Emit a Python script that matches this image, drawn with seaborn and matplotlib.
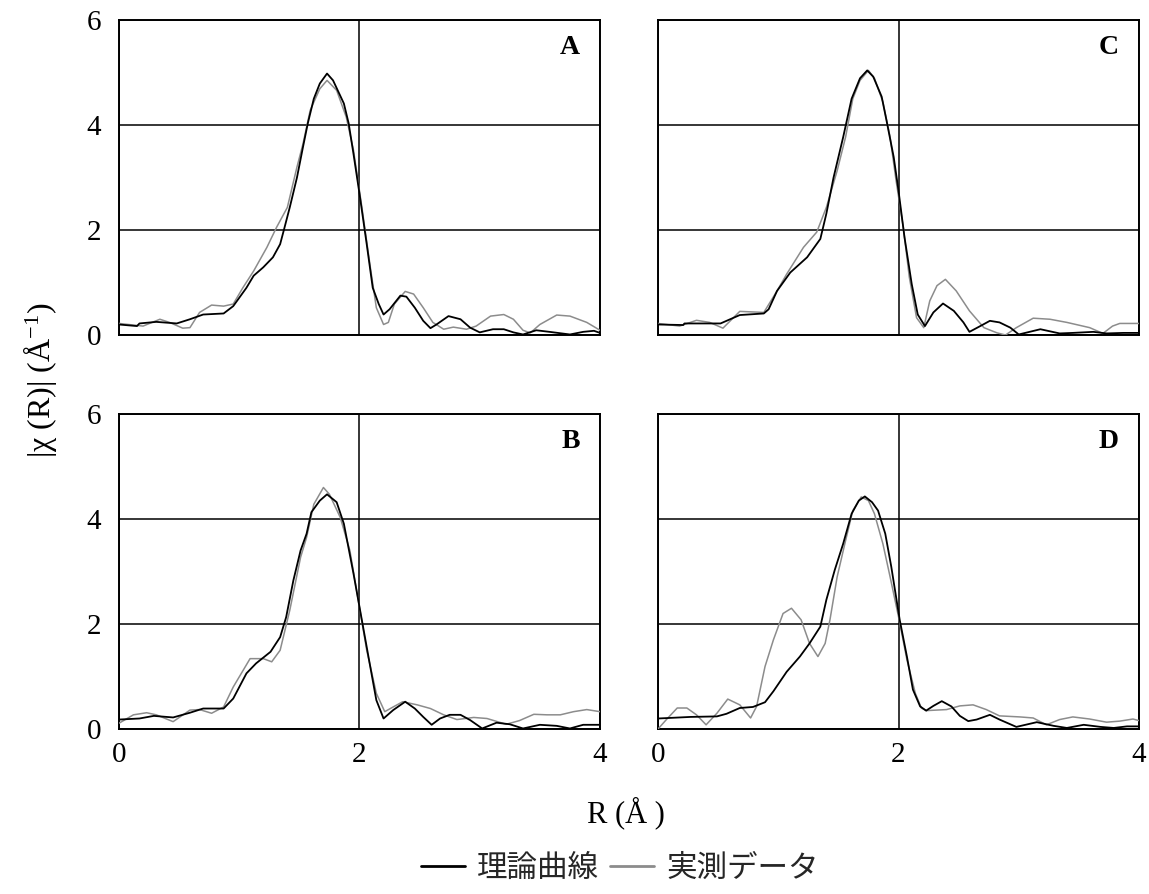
import numpy as np
import pandas as pd
import matplotlib
matplotlib.use("Agg")
import matplotlib.pyplot as plt
import seaborn as sns
from matplotlib.lines import Line2D

# ---------------- data ----------------
A_theory_R = [0, 0.15, 0.17, 0.31, 0.48, 0.59, 0.70, 0.87, 0.95, 1.06, 1.12, 1.20, 1.28, 1.34, 1.37, 1.42, 1.48, 1.53, 1.57, 1.62,
              1.67, 1.73, 1.78, 1.87, 1.91, 1.95, 2.00, 2.06, 2.11, 2.16, 2.20, 2.25, 2.34, 2.39, 2.46, 2.53, 2.59, 2.64, 2.74, 2.84,
              2.92, 3.00, 3.11, 3.20, 3.28, 3.36, 3.47, 3.58, 3.75, 3.86, 3.95, 4.0]
A_theory_V = [0.20, 0.17, 0.22, 0.25, 0.22, 0.30, 0.39, 0.41, 0.55, 0.90, 1.13, 1.29, 1.48, 1.73, 1.99, 2.43, 3.00, 3.58, 4.03, 4.50,
              4.79, 4.98, 4.85, 4.41, 4.03, 3.45, 2.69, 1.73, 0.90, 0.59, 0.39, 0.49, 0.75, 0.73, 0.52, 0.27, 0.13, 0.20, 0.36, 0.30,
              0.14, 0.05, 0.11, 0.11, 0.05, 0.01, 0.09, 0.06, 0.01, 0.06, 0.08, 0.04]
A_exp_R = [0, 0.20, 0.34, 0.42, 0.53, 0.59, 0.67, 0.77, 0.87, 0.95, 1.03, 1.12, 1.23, 1.31, 1.40, 1.48, 1.53, 1.59, 1.67, 1.73,
           1.81, 1.89, 1.95, 2.02, 2.09, 2.14, 2.20, 2.24, 2.29, 2.38, 2.45, 2.53, 2.61, 2.70, 2.78, 2.89, 2.97, 3.09, 3.20, 3.28,
           3.36, 3.42, 3.50, 3.64, 3.75, 3.89, 4.0]
A_exp_V = [0.22, 0.17, 0.30, 0.24, 0.13, 0.14, 0.43, 0.57, 0.55, 0.59, 0.90, 1.22, 1.67, 2.05, 2.43, 3.20, 3.64, 4.28, 4.69, 4.85,
           4.66, 4.15, 3.52, 2.43, 1.29, 0.52, 0.20, 0.24, 0.59, 0.83, 0.78, 0.52, 0.24, 0.11, 0.15, 0.11, 0.17, 0.36, 0.39, 0.30,
           0.09, 0.04, 0.20, 0.38, 0.36, 0.24, 0.09]

C_theory_R = [0, 0.21, 0.22, 0.52, 0.68, 0.88, 0.92, 0.99, 1.10, 1.24, 1.35, 1.40, 1.46, 1.54, 1.61, 1.68, 1.74, 1.79, 1.86, 1.90,
              1.96, 2.00, 2.05, 2.11, 2.16, 2.22, 2.29, 2.37, 2.46, 2.54, 2.59, 2.68, 2.76, 2.84, 2.93, 3.00, 3.18, 3.34, 3.45, 3.62,
              3.73, 3.87, 4.0]
C_theory_V = [0.20, 0.19, 0.22, 0.22, 0.38, 0.41, 0.49, 0.84, 1.19, 1.48, 1.83, 2.31, 3.00, 3.77, 4.50, 4.89, 5.04, 4.92, 4.54, 4.09,
              3.39, 2.75, 1.86, 0.97, 0.39, 0.17, 0.43, 0.60, 0.46, 0.24, 0.06, 0.17, 0.27, 0.24, 0.14, 0.01, 0.11, 0.03, 0.04, 0.06,
              0.03, 0.04, 0.04]
C_exp_R = [0, 0.18, 0.32, 0.43, 0.54, 0.68, 0.88, 0.99, 1.07, 1.21, 1.32, 1.40, 1.49, 1.56, 1.62, 1.68, 1.75, 1.80, 1.87, 1.93,
           1.98, 2.04, 2.09, 2.15, 2.21, 2.26, 2.32, 2.39, 2.48, 2.59, 2.71, 2.82, 2.89, 2.98, 3.12, 3.26, 3.40, 3.59, 3.70, 3.78,
           3.84, 4.0]
C_exp_V = [0.22, 0.17, 0.28, 0.24, 0.13, 0.45, 0.43, 0.84, 1.16, 1.67, 1.96, 2.43, 3.13, 3.77, 4.50, 4.85, 5.04, 4.89, 4.44, 3.77,
           2.94, 2.05, 1.10, 0.33, 0.14, 0.65, 0.94, 1.06, 0.84, 0.46, 0.14, 0.04, 0.00, 0.14, 0.32, 0.30, 0.24, 0.14, 0.03, 0.17,
           0.22, 0.22]

B_theory_R = [0, 0.17, 0.29, 0.45, 0.59, 0.70, 0.87, 0.95, 1.06, 1.14, 1.26, 1.34, 1.39, 1.45, 1.51, 1.56, 1.60, 1.67, 1.73, 1.81,
              1.87, 1.95, 2.02, 2.09, 2.14, 2.20, 2.28, 2.38, 2.46, 2.53, 2.60, 2.67, 2.75, 2.84, 2.92, 3.02, 3.14, 3.25, 3.36, 3.50,
              3.64, 3.75, 3.86, 4.0]
B_theory_V = [0.18, 0.20, 0.25, 0.22, 0.31, 0.39, 0.39, 0.58, 1.06, 1.25, 1.47, 1.75, 2.13, 2.83, 3.40, 3.72, 4.13, 4.35, 4.47, 4.32,
              3.91, 2.96, 2.07, 1.18, 0.55, 0.20, 0.36, 0.52, 0.39, 0.23, 0.08, 0.20, 0.27, 0.27, 0.17, 0.01, 0.12, 0.09, 0.01, 0.08,
              0.06, 0.01, 0.08, 0.08]
B_exp_R = [0, 0.12, 0.23, 0.31, 0.45, 0.59, 0.67, 0.77, 0.87, 0.95, 1.09, 1.20, 1.27, 1.34, 1.42, 1.51, 1.56, 1.62, 1.70, 1.75,
           1.84, 1.92, 1.99, 2.06, 2.14, 2.21, 2.28, 2.36, 2.48, 2.59, 2.70, 2.81, 2.95, 3.06, 3.22, 3.33, 3.45, 3.56, 3.67, 3.78,
           3.89, 4.0]
B_exp_V = [0.11, 0.27, 0.31, 0.27, 0.14, 0.36, 0.37, 0.30, 0.42, 0.80, 1.34, 1.34, 1.28, 1.50, 2.26, 3.27, 3.65, 4.28, 4.60, 4.47,
           4.03, 3.40, 2.45, 1.50, 0.68, 0.33, 0.42, 0.52, 0.46, 0.39, 0.27, 0.18, 0.22, 0.20, 0.09, 0.16, 0.28, 0.27, 0.27, 0.33,
           0.37, 0.33]

D_theory_R = [0, 0.27, 0.49, 0.57, 0.68, 0.79, 0.89, 0.96, 1.07, 1.18, 1.26, 1.35, 1.40, 1.47, 1.54, 1.61, 1.67, 1.72, 1.78, 1.83,
              1.89, 1.94, 2.01, 2.07, 2.12, 2.18, 2.23, 2.29, 2.36, 2.44, 2.51, 2.58, 2.65, 2.76, 2.84, 2.98, 3.15, 3.29, 3.40, 3.54,
              3.68, 3.79, 3.90, 4.0]
D_theory_V = [0.20, 0.23, 0.24, 0.29, 0.40, 0.42, 0.51, 0.72, 1.09, 1.38, 1.63, 1.95, 2.46, 3.03, 3.53, 4.10, 4.35, 4.43, 4.32, 4.16,
              3.72, 3.09, 2.08, 1.38, 0.75, 0.43, 0.35, 0.44, 0.53, 0.43, 0.25, 0.15, 0.18, 0.27, 0.18, 0.04, 0.13, 0.06, 0.02, 0.08,
              0.04, 0.02, 0.05, 0.05]
D_exp_R = [0, 0.07, 0.16, 0.24, 0.32, 0.40, 0.49, 0.58, 0.68, 0.77, 0.82, 0.89, 0.96, 1.04, 1.11, 1.19, 1.26, 1.33, 1.39, 1.43,
           1.49, 1.56, 1.62, 1.69, 1.75, 1.80, 1.87, 1.93, 2.00, 2.07, 2.14, 2.19, 2.23, 2.40, 2.51, 2.62, 2.73, 2.84, 3.01, 3.12,
           3.23, 3.34, 3.45, 3.59, 3.73, 3.84, 3.95, 4.0]
D_exp_V = [0.00, 0.18, 0.40, 0.40, 0.27, 0.08, 0.30, 0.57, 0.46, 0.21, 0.43, 1.19, 1.70, 2.20, 2.30, 2.08, 1.63, 1.38, 1.63, 2.08,
           2.90, 3.59, 4.16, 4.42, 4.35, 4.10, 3.53, 2.90, 2.14, 1.32, 0.68, 0.40, 0.35, 0.37, 0.44, 0.46, 0.37, 0.25, 0.23, 0.21,
           0.08, 0.18, 0.23, 0.19, 0.13, 0.15, 0.19, 0.16]

panel_labels = ["A", "C", "B", "D"]
series_names = ["理論曲線", "実測データ"]
x_ticks = [0, 2, 4]
y_ticks = [0, 2, 4, 6]

# ---------------- style ----------------
sns.set_theme(style="white")
plt.rcParams["font.family"] = ["Liberation Serif", "Noto Sans CJK JP", "DejaVu Sans"]
plt.rcParams["mathtext.default"] = "regular"

W, H = 1149, 894
fig, axes = plt.subplots(2, 2, figsize=(W / 100, H / 100), dpi=100, sharex=True, sharey=True)
fig.subplots_adjust(left=119 / W, right=1139 / W, top=1 - 20 / H, bottom=1 - 729 / H,
                    wspace=58 / 481, hspace=79 / 315)

THEORY_COLOR = "black"
EXP_COLOR = "#8c8c8c"

panel_data = {
    "A": (A_theory_R, A_theory_V, A_exp_R, A_exp_V),
    "C": (C_theory_R, C_theory_V, C_exp_R, C_exp_V),
    "B": (B_theory_R, B_theory_V, B_exp_R, B_exp_V),
    "D": (D_theory_R, D_theory_V, D_exp_R, D_exp_V),
}

for ax, lab in zip(axes.flat, panel_labels):
    tR, tV, eR, eV = panel_data[lab]
    df_t = pd.DataFrame({"R": tR, "chi": tV})
    df_e = pd.DataFrame({"R": eR, "chi": eV})
    sns.lineplot(data=df_e, x="R", y="chi", ax=ax, color=EXP_COLOR, lw=1.1,
                 estimator=None, sort=False, zorder=3)
    sns.lineplot(data=df_t, x="R", y="chi", ax=ax, color=THEORY_COLOR, lw=1.3,
                 estimator=None, sort=False, zorder=4)
    ax.set_xlim(0, 4)
    ax.set_ylim(0, 6)
    ax.set_xticks(x_ticks)
    ax.set_yticks(y_ticks)
    ax.grid(True, color="black", lw=1.1)
    ax.set_xlabel("")
    ax.set_ylabel("")
    for sp in ax.spines.values():
        sp.set_visible(True)
        sp.set_color("black")
        sp.set_linewidth(1.4)
    ax.tick_params(axis="y", length=0, pad=13, labelsize=21, colors="black")
    ax.tick_params(axis="x", length=0, pad=9, labelsize=21, colors="black")
    ax.text(0.958, 0.914, lab, transform=ax.transAxes, ha="right", va="center",
            fontsize=20, fontweight="bold", color="black")

fig.text(40 / W, 1 - 380 / H, r"|χ (R)| (Å$^{-1}$)", rotation=90,
         ha="center", va="center", fontsize=23, color="black")
fig.text(626 / W, 1 - 822 / H, "R (Å )", ha="center", va="baseline", fontsize=22, color="black")

handles = [Line2D([], [], color=THEORY_COLOR, lw=2.0), Line2D([], [], color=EXP_COLOR, lw=2.0)]
fig.legend(handles=handles, labels=series_names, loc="center",
           bbox_to_anchor=(620 / W, 1 - 868 / H), ncol=2, frameon=False,
           prop={"family": ["Noto Sans CJK JP"], "size": 22},
           handlelength=1.45, handletextpad=0.4, columnspacing=0.35)

fig.savefig("out.png", dpi=100)
